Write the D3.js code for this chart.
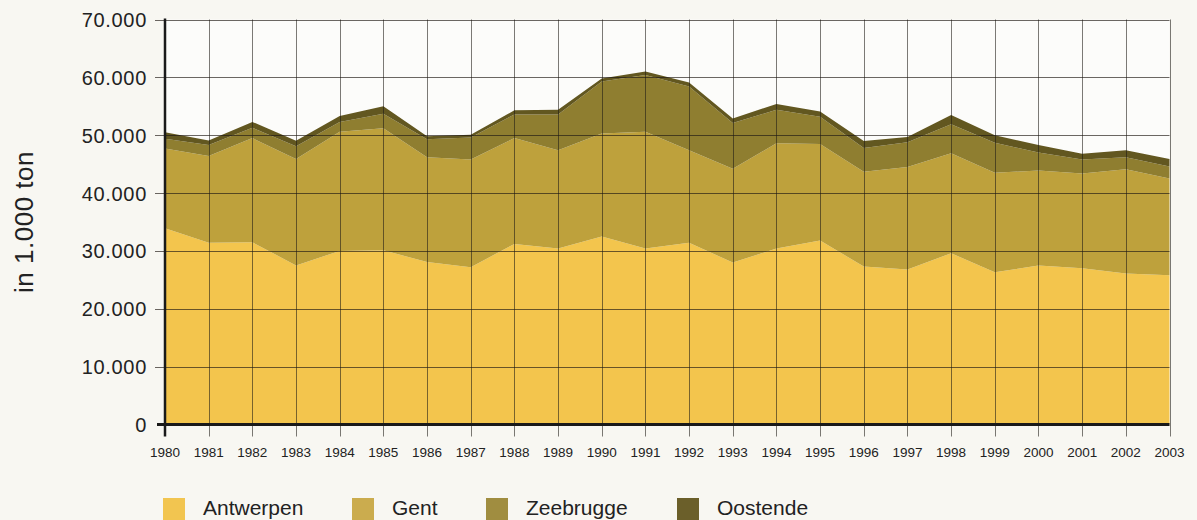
<!DOCTYPE html>
<html>
<head>
<meta charset="utf-8">
<script src="https://cdn.jsdelivr.net/npm/d3@7"></script>
<style>
  html, body { margin: 0; padding: 0; background: #f8f7f2; }
  svg { display: block; }
  text { font-family: "Liberation Sans", Arial, Helvetica, sans-serif; fill: #222; }
</style>
</head>
<body>
<svg id="chart" width="1197" height="520"></svg>
<script>
// Goods handled per port, in 1.000 ton
const years = [1980, 1981, 1982, 1983, 1984, 1985, 1986, 1987, 1988, 1989, 1990, 1991,
               1992, 1993, 1994, 1995, 1996, 1997, 1998, 1999, 2000, 2001, 2002, 2003];
const antwerpen = [33900, 31400, 31500, 27500, 30000, 30100, 28100, 27200, 31200, 30400, 32500, 30400,
                   31400, 28000, 30400, 31800, 27300, 26800, 29600, 26300, 27500, 27000, 26100, 25800];
const gent      = [13800, 15000, 18000, 18400, 20600, 21100, 18100, 18600, 18300, 17000, 17800, 20200,
                   16000, 16200, 18200, 16700, 16400, 17700, 17300, 17200, 16400, 16400, 18000, 16700];
const zeebrugge = [1700, 1900, 1800, 2200, 1700, 2500, 3100, 3800, 4100, 6200, 9000, 9800,
                   11000, 7900, 5800, 4700, 4100, 4300, 5000, 5200, 3100, 2400, 2100, 2100];
const oostende  = [1100, 800, 1000, 950, 1000, 1300, 500, 500, 700, 800, 500, 600,
                   700, 800, 1000, 900, 1200, 900, 1600, 1300, 1300, 1000, 1200, 1300];
const seriesNames = ["Antwerpen", "Gent", "Zeebrugge", "Oostende"];
const yTicks = [0, 10000, 20000, 30000, 40000, 50000, 60000, 70000];
const yTickLabels = ["0", "10.000", "20.000", "30.000", "40.000", "50.000", "60.000", "70.000"];
const yTitle = "in 1.000 ton";

const colors = ["#f3c54d", "#bea13c", "#8f7e30", "#625720"];
const legendColors = ["#f2c550", "#cbac4e", "#a08d40", "#6b5f2a"];

const rows = years.map((yr, i) => ({
  year: yr,
  Antwerpen: antwerpen[i],
  Gent: gent[i],
  Zeebrugge: zeebrugge[i],
  Oostende: oostende[i]
}));

const svg = d3.select("#chart");
const plotLeft = 165, plotRight = 1169.5, plotTop = 19.5, plotBottom = 424.5;

const x = d3.scaleLinear().domain([years[0], years[years.length - 1]]).range([plotLeft, plotRight]);
const y = d3.scaleLinear().domain([0, 70000]).range([plotBottom, plotTop]);

// white plot panel
svg.append("rect")
  .attr("x", plotLeft).attr("y", plotTop)
  .attr("width", plotRight - plotLeft).attr("height", plotBottom - plotTop)
  .attr("fill", "#fcfcfa");

// stacked areas
const stacked = d3.stack().keys(seriesNames)(rows);
const area = d3.area()
  .x(d => x(d.data.year))
  .y0(d => y(d[0]))
  .y1(d => y(d[1]));

svg.append("g").selectAll("path")
  .data(stacked)
  .join("path")
  .attr("d", area)
  .attr("fill", (d, i) => colors[i]);

// grid drawn over the areas
const grid = svg.append("g")
  .attr("stroke", "rgba(30,25,20,0.66)")
  .attr("stroke-width", 1);

grid.selectAll("line.h")
  .data(yTicks.slice(1))
  .join("line")
  .attr("class", "h")
  .attr("x1", plotLeft - 10).attr("x2", plotRight)
  .attr("y1", d => Math.round(y(d)) + 0.5).attr("y2", d => Math.round(y(d)) + 0.5);

grid.selectAll("line.v")
  .data(years.slice(1))
  .join("line")
  .attr("class", "v")
  .attr("x1", d => Math.round(x(d)) + 0.5).attr("x2", d => Math.round(x(d)) + 0.5)
  .attr("y1", plotTop).attr("y2", plotBottom + 12)
  .attr("stroke", "rgba(30,25,20,0.58)");

// x axis (thick baseline) and y axis
svg.append("line")
  .attr("x1", plotLeft - 8).attr("x2", plotRight)
  .attr("y1", plotBottom).attr("y2", plotBottom)
  .attr("stroke", "#1a1a1a").attr("stroke-width", 3);
svg.append("line")
  .attr("x1", plotLeft).attr("x2", plotLeft)
  .attr("y1", plotTop - 1).attr("y2", plotBottom + 12)
  .attr("stroke", "#1a1a1a").attr("stroke-width", 2.5);

// y tick labels
svg.append("g").selectAll("text")
  .data(yTicks)
  .join("text")
  .attr("x", 147)
  .attr("y", d => y(d) + 7.5)
  .attr("text-anchor", "end")
  .style("font-size", "20px")
  .style("letter-spacing", "0.7px")
  .text((d, i) => yTickLabels[i]);

// x tick labels
svg.append("g").selectAll("text")
  .data(years)
  .join("text")
  .attr("x", d => x(d))
  .attr("y", 457)
  .attr("text-anchor", "middle")
  .style("font-size", "13.5px")
  .text(d => d);

// y axis title
svg.append("text")
  .attr("transform", "translate(33,222) rotate(-90)")
  .attr("text-anchor", "middle")
  .style("font-size", "26px")
  .style("letter-spacing", "0.5px")
  .text(yTitle);

// legend
const legendX = [163, 352, 486, 677];
const legend = svg.append("g").selectAll("g")
  .data(seriesNames)
  .join("g")
  .attr("transform", (d, i) => `translate(${legendX[i]},498)`);
legend.append("rect")
  .attr("width", 22).attr("height", 22)
  .attr("fill", (d, i) => legendColors[i]);
legend.append("text")
  .attr("x", 40).attr("y", 17)
  .style("font-size", "21px")
  .text(d => d);
</script>
</body>
</html>
